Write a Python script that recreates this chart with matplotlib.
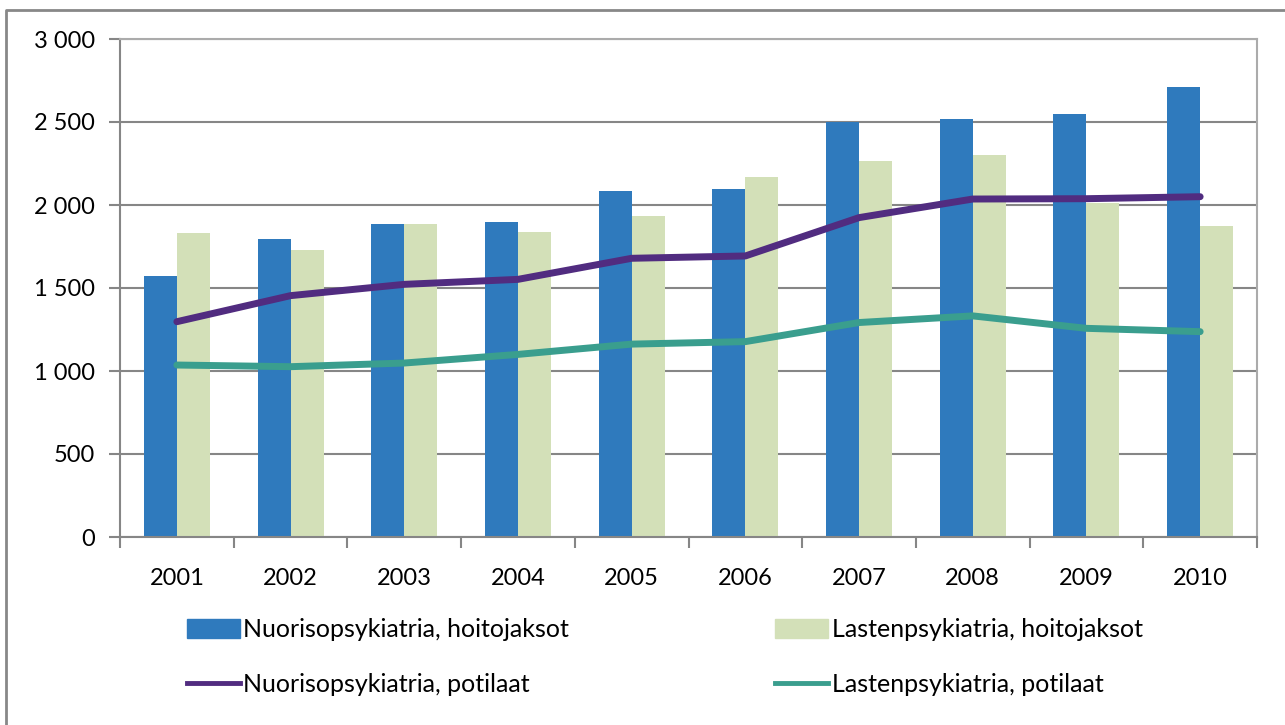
import numpy as np
import matplotlib
matplotlib.use('Agg')
from matplotlib import pyplot as plt
from matplotlib.lines import Line2D
from matplotlib.patches import Patch
from matplotlib.ticker import FuncFormatter

years = ['2001', '2002', '2003', '2004', '2005', '2006', '2007', '2008', '2009', '2010']
nuoriso_jaksot = [1575, 1793, 1886, 1896, 2082, 2094, 2502, 2518, 2550, 2713]
lasten_jaksot = [1829, 1729, 1886, 1835, 1932, 2167, 2265, 2303, 2015, 1873]
nuoriso_potilaat = [1297, 1454, 1522, 1552, 1679, 1693, 1924, 2036, 2038, 2050]
lasten_potilaat = [1036, 1026, 1048, 1100, 1162, 1177, 1292, 1332, 1257, 1237]

blue = '#2F7ABD'
green = '#D3E0B8'
purple = '#512C80'
teal = '#3A9E8E'

plt.rcParams['font.family'] = ['Lato', 'DejaVu Sans']

fig = plt.figure(figsize=(12.85, 7.25), dpi=100)
ax = fig.add_axes([120 / 1285, 1 - 537 / 725, (1257 - 120) / 1285, (537 - 39) / 725])

x = np.arange(len(years))
w = 0.29
ax.bar(x - w / 2, nuoriso_jaksot, w, color=blue, zorder=2)
ax.bar(x + w / 2, lasten_jaksot, w, color=green, zorder=2)
ax.plot(x, nuoriso_potilaat, color=purple, lw=5, solid_capstyle='round', zorder=3)
ax.plot(x, lasten_potilaat, color=teal, lw=5, solid_capstyle='round', zorder=3)

ax.set_xlim(-0.5, len(years) - 0.5)
ax.set_ylim(0, 3000)
ax.set_yticks(range(0, 3001, 500))
ax.yaxis.set_major_formatter(FuncFormatter(lambda v, p: f'{int(v):,}'.replace(',', ' ')))
ax.set_xticks(x)
ax.set_xticklabels(years)
ax.set_xticks(np.arange(-0.5, len(years)), minor=True)
ax.tick_params(axis='x', which='major', length=0, pad=22, labelsize=17)
ax.tick_params(axis='x', which='minor', length=8, width=1.5, color='#868686')
ax.tick_params(axis='y', length=8, width=1.5, color='#868686', labelsize=17, pad=10)
ax.grid(axis='y', color='#868686', lw=1.5, zorder=1)

for s in ['left', 'bottom']:
    ax.spines[s].set_color('#868686')
    ax.spines[s].set_linewidth(1.5)
for s in ['top', 'right']:
    ax.spines[s].set_color('#ABABAB')
    ax.spines[s].set_linewidth(1.5)

handles = [Patch(color=blue), Line2D([], [], color=purple, lw=3.5),
           Patch(color=green), Line2D([], [], color=teal, lw=3.5)]
labels = ['Nuorisopsykiatria, hoitojaksot', 'Nuorisopsykiatria, potilaat',
          'Lastenpsykiatria, hoitojaksot', 'Lastenpsykiatria, potilaat']
fig.legend(handles, labels, ncol=2, loc='center left', bbox_to_anchor=(187 / 1285, 1 - 657 / 725),
           frameon=False, fontsize=18, handlelength=2.1, handleheight=0.8, handletextpad=0.15,
           columnspacing=8.25, labelspacing=1.3, borderpad=0, borderaxespad=0)

# outer chart frame (top and left only)
fig.add_artist(Line2D([6 / 1285, 6 / 1285, 1.0], [0.0, 1 - 10 / 725, 1 - 10 / 725],
                      transform=fig.transFigure, color='#888888', lw=2))

fig.savefig('out.png', dpi=100)
